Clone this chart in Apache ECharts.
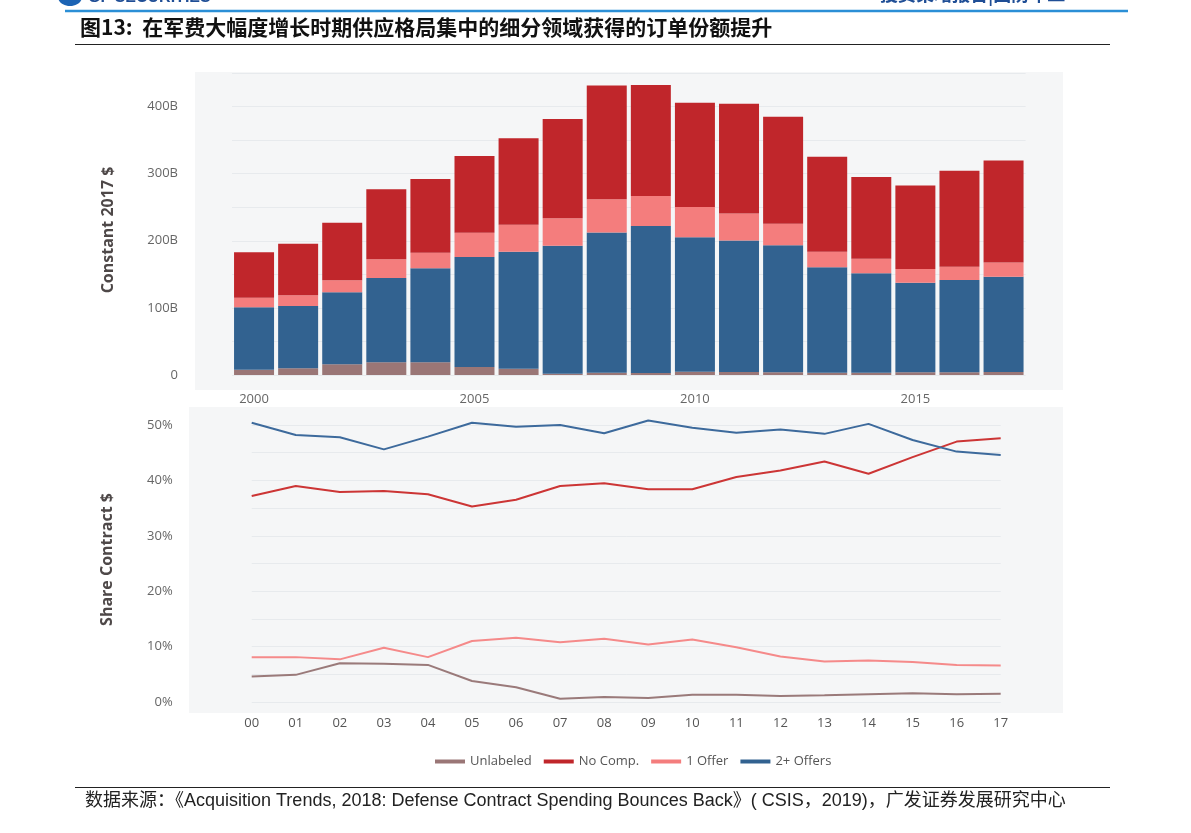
<!DOCTYPE html>
<html>
<head>
<meta charset="utf-8">
<script src="https://cdn.jsdelivr.net/npm/echarts@6/dist/echarts.min.js"></script>
<style>
html,body{margin:0;padding:0;background:#fff;}
#chart{width:1191px;height:833px;}
</style>
</head>
<body>
<div id="chart"></div>
<script>
// ---------- data ----------
var years = ['2000','2001','2002','2003','2004','2005','2006','2007','2008','2009','2010','2011','2012','2013','2014','2015','2016','2017'];
var shortYears = ['00','01','02','03','04','05','06','07','08','09','10','11','12','13','14','15','16','17'];
var seriesNames = ['Unlabeled','No Comp.','1 Offer','2+ Offers'];

// Contract dollars, constant 2017 $, billions
var unlabeledB = [8, 10, 16, 19, 19, 12, 9.4, 2, 3.5, 3, 5, 4.5, 4, 3.5, 3.5, 4, 4, 4.5];
var twoPlusB   = [92.8, 92.8, 107.2, 125.5, 140, 164, 174.3, 190.6, 209, 219, 200.1, 196.1, 189.2, 156.9, 148, 133.6, 137.5, 142];
var oneOfferB  = [14.2, 15.9, 17.8, 27.8, 23.3, 35.8, 40.2, 40.8, 49.2, 44.6, 45.2, 40.2, 32.2, 23.3, 21.8, 20.4, 19.9, 21.3];
var noCompB    = [67.8, 76.9, 85.9, 104.3, 109.8, 114.7, 128.7, 147.9, 169.8, 165.4, 155.3, 163.4, 159.4, 141.5, 121.7, 124.5, 143, 152];

// Share of contract dollars, %
var unlabeledS = [4.6, 4.9, 7.0, 6.9, 6.7, 3.8, 2.65, 0.6, 0.9, 0.7, 1.3, 1.3, 1.1, 1.2, 1.4, 1.6, 1.4, 1.5];
var noCompS    = [37.2, 39.0, 37.9, 38.1, 37.5, 35.3, 36.5, 39.0, 39.5, 38.4, 38.4, 40.6, 41.8, 43.4, 41.2, 44.2, 47.0, 47.6];
var oneOfferS  = [8.1, 8.1, 7.7, 9.8, 8.1, 11.0, 11.6, 10.8, 11.4, 10.4, 11.3, 9.9, 8.2, 7.3, 7.5, 7.2, 6.7, 6.6];
var twoPlusS   = [50.4, 48.2, 47.8, 45.6, 47.9, 50.4, 49.7, 50.0, 48.5, 50.8, 49.5, 48.6, 49.2, 48.4, 50.2, 47.3, 45.2, 44.6];

// ---------- styles ----------
var C = { unl: '#9a7676', noc: '#c0262b', one: '#f47d7d', two: '#326290' };
var LC = { unl: '#9a7a7a', noc: '#cc3535', one: '#f58a8a', two: '#3d6a9c' };
var FONT = '"Open Sans", "Noto Sans", sans-serif';
var CJK = '"Noto Sans CJK SC", sans-serif';
var plotBg = '#f5f6f7';
var gridLine = '#e7eaed';
var labelColor = '#666';
var titleColor = '#4e4848';

var chart = echarts.init(document.getElementById('chart'), null, {renderer: 'canvas'});

function barSeries(name, data, color) {
  return { name: name, type: 'bar', stack: 'total', xAxisIndex: 0, yAxisIndex: 0,
    data: data, barWidth: 40, itemStyle: { color: color }, emphasis: { disabled: true } };
}
function lineSeries(name, data, color) {
  return { name: name, type: 'line', xAxisIndex: 1, yAxisIndex: 1, data: data, clip: false,
    symbol: 'none', lineStyle: { color: color, width: 2 }, itemStyle: { color: color } };
}

var option = {
  backgroundColor: '#fff',
  animation: false,
  textStyle: { fontFamily: FONT },
  graphic: [
    // page header / decoration
    { type: 'text', left: 88, top: -10, z: 5, style: { text: 'GF SECURITIES', font: 'bold 16px "Liberation Sans", sans-serif', fill: '#1f4e96' } },
    { type: 'ellipse', shape: { cx: 70, cy: -3, rx: 12, ry: 9 }, z: 5, style: { fill: '#1b63b4' } },
    { type: 'text', left: 880, top: -15, z: 5, style: { text: '投资策略报告|国防军工', font: 'bold 18px ' + CJK, fill: '#1f4e96' } },
    { type: 'line', shape: { x1: 65, y1: 11, x2: 1128, y2: 11 }, z: 5, style: { stroke: '#2b8fd6', lineWidth: 2.5 } },
    { type: 'text', left: 80, top: 17, z: 5, style: { text: '图13:  在军费大幅度增长时期供应格局集中的细分领域获得的订单份额提升', font: 'bold 21px ' + CJK, fill: '#111' } },
    { type: 'line', shape: { x1: 75, y1: 44.5, x2: 1110, y2: 44.5 }, z: 5, style: { stroke: '#222', lineWidth: 1.2 } },
    { type: 'line', shape: { x1: 75, y1: 787.5, x2: 1110, y2: 787.5 }, z: 5, style: { stroke: '#222', lineWidth: 1.2 } },
    { type: 'text', left: 85, top: 792, z: 5, style: { text: '数据来源：《Acquisition Trends, 2018: Defense Contract Spending Bounces Back》( CSIS，2019)，广发证券发展研究中心', font: '18px "Liberation Sans", ' + CJK, fill: '#222' } },
    // plot backgrounds
    { type: 'rect', shape: { x: 195, y: 72, width: 868, height: 318 }, z: -10, silent: true, style: { fill: plotBg } },
    { type: 'rect', shape: { x: 189, y: 407, width: 874, height: 306 }, z: -10, silent: true, style: { fill: plotBg } }
  ],
  legend: {
    left: 430, top: 750,
    itemWidth: 30, itemHeight: 4, itemGap: 12,
    icon: 'rect',
    textStyle: { color: '#555', fontSize: 13, fontFamily: FONT },
    data: [
      { name: 'Unlabeled', itemStyle: { color: C.unl } },
      { name: 'No Comp.', itemStyle: { color: C.noc } },
      { name: '1 Offer', itemStyle: { color: C.one } },
      { name: '2+ Offers', itemStyle: { color: C.two } }
    ]
  },
  grid: [
    { left: 232, top: 73, width: 793.6, height: 302 },
    { left: 251.7, top: 425, width: 749, height: 277 }
  ],
  xAxis: [
    { type: 'category', gridIndex: 0, data: years, boundaryGap: true,
      axisLine: { show: false }, axisTick: { show: false },
      axisLabel: { interval: 4, margin: 18, color: labelColor, fontSize: 13, fontFamily: FONT } },
    { type: 'category', gridIndex: 1, data: shortYears, boundaryGap: false,
      axisLine: { show: false }, axisTick: { show: false },
      axisLabel: { interval: 0, margin: 15, color: '#555', fontSize: 13, fontFamily: FONT } }
  ],
  yAxis: [
    { type: 'value', gridIndex: 0, min: 0, max: 450, interval: 50,
      name: 'Constant 2017 $', nameLocation: 'middle', nameGap: 116,
      nameTextStyle: { fontSize: 16, fontWeight: 'bold', color: titleColor, fontFamily: FONT, padding: [0, 12, 0, 0] },
      axisLine: { show: false }, axisTick: { show: false },
      splitLine: { lineStyle: { color: gridLine, width: 1 } },
      axisLabel: { margin: 54, color: labelColor, fontSize: 13, fontFamily: FONT,
        formatter: function (v) { return v === 0 ? '0' : (v % 100 === 0 ? v + 'B' : ''); } } },
    { type: 'value', gridIndex: 1, min: 0, max: 50, interval: 5,
      name: 'Share Contract $', nameLocation: 'middle', nameGap: 136,
      nameTextStyle: { fontSize: 16, fontWeight: 'bold', color: titleColor, fontFamily: FONT, padding: [0, 0, 0, 8] },
      axisLine: { show: false }, axisTick: { show: false },
      splitLine: { lineStyle: { color: gridLine, width: 1 } },
      axisLabel: { margin: 79, color: labelColor, fontSize: 13, fontFamily: FONT,
        formatter: function (v) { return v % 10 === 0 ? v + '%' : ''; } } }
  ],
  series: [
    barSeries('Unlabeled', unlabeledB, C.unl),
    barSeries('2+ Offers', twoPlusB, C.two),
    barSeries('1 Offer', oneOfferB, C.one),
    barSeries('No Comp.', noCompB, C.noc),
    lineSeries('Unlabeled', unlabeledS, LC.unl),
    lineSeries('No Comp.', noCompS, LC.noc),
    lineSeries('1 Offer', oneOfferS, LC.one),
    lineSeries('2+ Offers', twoPlusS, LC.two)
  ]
};
chart.setOption(option);
</script>
</body>
</html>
